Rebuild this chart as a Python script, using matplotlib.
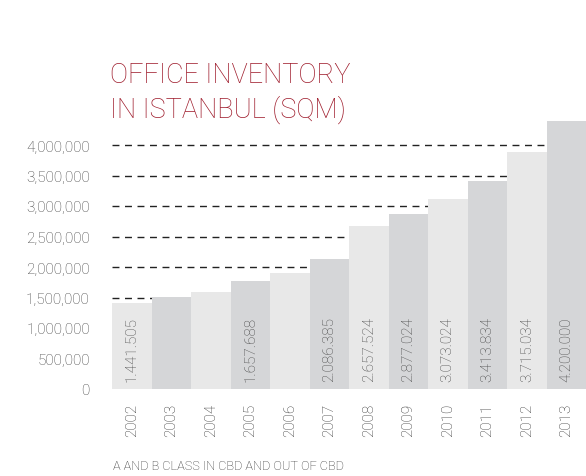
import matplotlib
matplotlib.use('Agg')
import matplotlib.pyplot as plt
import numpy as np

# Data
years = ['2002', '2003', '2004', '2005', '2006', '2007', '2008', '2009', '2010', '2011', '2012', '2013']
inventory = [1410000, 1510000, 1590000, 1770000, 1900000, 2130000, 2680000, 2870000, 3110000, 3410000, 3890000, 4400000]
value_labels = ['1.441.505', '', '', '1.657.688', '', '2.086.385', '2.657.524', '2.877.024',
                '3.073.024', '3.413.834', '3.715.034', '4.200.000']
y_ticks = [0, 500000, 1000000, 1500000, 2000000, 2500000, 3000000, 3500000, 4000000]

plt.rcParams['font.family'] = ['Roboto', 'DejaVu Sans']

fig = plt.figure(figsize=(5.86, 4.77), dpi=100)
ax = fig.add_axes([112 / 586, 87 / 477, 474 / 586, 274.5 / 477])

x = np.arange(len(years))
colors = ['#e8e8e8' if i % 2 == 0 else '#d5d6d8' for i in range(len(years))]
ax.bar(x, inventory, width=1.0, color=colors, zorder=2)

# dashed gridlines behind the bars
for t in y_ticks:
    ax.axhline(t, color='#999999' if t == 0 else '#222222', lw=1.0,
               linestyle=(0, (5, 4)), zorder=1)

# value labels inside bars
for i, lab in enumerate(value_labels):
    if lab:
        ax.annotate(lab, (i, 0), xytext=(0, 6), textcoords='offset points',
                    rotation=90, ha='center', va='bottom', fontsize=11,
                    fontweight='light', color='#444444', zorder=3)

ax.set_xlim(-0.5, 11.5)
ax.set_ylim(0, 4500000)
ax.set_xticks(x)
ax.set_xticklabels(years, rotation=90, fontsize=11, fontweight='light', color='#333333')
ax.set_yticks(y_ticks)
ax.set_yticklabels([f'{t:,}' for t in y_ticks], fontsize=11, fontweight='light', color='#3f3f3f')
ax.tick_params(axis='both', length=0)
ax.tick_params(axis='y', pad=16)
ax.tick_params(axis='x', pad=10)
for s in ax.spines.values():
    s.set_visible(False)

# Title
fig.text(110 / 586, 1 - 118 / 477, 'OFFICE INVENTORY\nIN ISTANBUL (SQM)', color='#9e1b2b',
         fontsize=19.5, fontweight='light', ha='left', va='baseline', linespacing=1.3)
fig.text(113 / 586, 1 - 467 / 477, 'A AND B CLASS IN CBD AND OUT OF CBD', color='#333333',
         fontsize=9.2, fontweight='light', ha='left', va='center')

plt.savefig('out.png', dpi=100)
